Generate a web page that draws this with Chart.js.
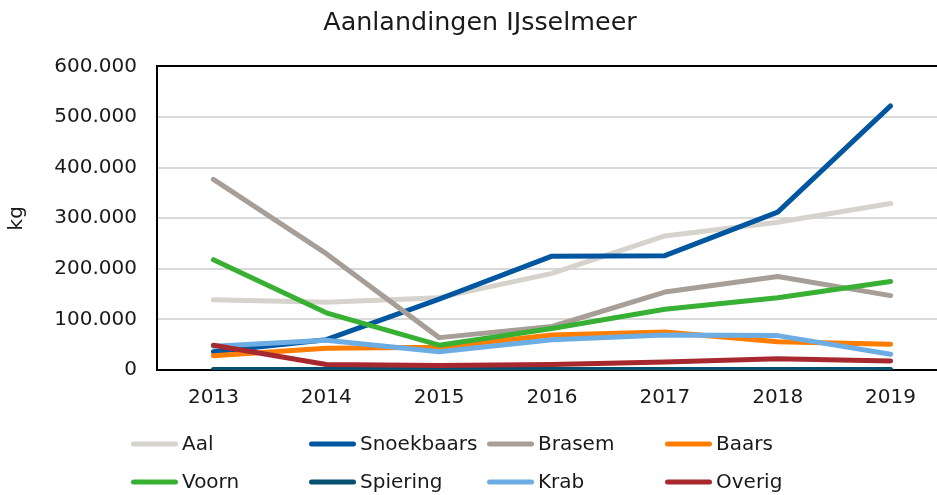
<!DOCTYPE html>
<html lang="nl">
<head>
<meta charset="utf-8">
<title>Aanlandingen IJsselmeer</title>
<script src="https://cdn.jsdelivr.net/npm/chart.js@4/dist/chart.umd.min.js"></script>
<style>
  html, body { margin: 0; padding: 0; background: #fff; overflow: hidden; }
  #wrap { width: 937px; height: 495px; overflow: hidden; }
  canvas { display: block; }
</style>
</head>
<body>
<div id="wrap"><canvas id="chartCanvas" width="980" height="495"></canvas></div>
<script>
// Years on the x axis
const years = ['2013', '2014', '2015', '2016', '2017', '2018', '2019'];

// Landings per species in kg
const aal        = [139000, 134000, 143000, 191000, 265000, 292000, 329000];
const snoekbaars = [36000, 60000, 140000, 225000, 226000, 312000, 522000];
const brasem     = [377000, 230000, 64000, 86000, 154000, 185000, 147000];
const baars      = [28000, 43000, 45000, 69000, 75000, 56000, 51000];
const voorn      = [218000, 113000, 49000, 82000, 120000, 143000, 175000];
const spiering   = [1000, 1000, 1000, 1000, 1000, 1000, 1000];
const krab       = [47000, 59000, 36000, 60000, 69000, 68000, 31000];
const overig     = [49000, 11000, 9000, 11000, 16000, 22000, 18000];

// Y axis range
const yMin = 0;
const yMax = 600000;
const yStep = 100000;

const textColor = '#1a1a1a';
Chart.defaults.font.family = '"DejaVu Sans", Verdana, sans-serif';
Chart.defaults.color = textColor;

// Dutch thousands separator: 100000 -> 100.000
function formatKg(value) {
  return String(value).replace(/\B(?=(\d{3})+(?!\d))/g, '.');
}

// Build a line dataset, later series are drawn on top
function series(label, data, color, index) {
  return {
    label: label,
    data: data,
    borderColor: color,
    backgroundColor: color,
    borderWidth: 5,
    borderCapStyle: 'round',
    borderJoinStyle: 'round',
    pointRadius: 0,
    pointHoverRadius: 0,
    tension: 0,
    fill: false,
    order: 8 - index
  };
}

// Black line along the top of the plot area
const topLine = {
  id: 'topLine',
  beforeDatasetsDraw(chart) {
    const { ctx, chartArea } = chart;
    ctx.save();
    ctx.strokeStyle = '#000';
    ctx.lineWidth = 2;
    ctx.beginPath();
    ctx.moveTo(chartArea.left - 1, Math.round(chartArea.top));
    ctx.lineTo(chartArea.right, Math.round(chartArea.top));
    ctx.stroke();
    ctx.restore();
  }
};

// Legend in a fixed grid of 4 columns, like the Excel legend
const gridLegend = {
  id: 'gridLegend',
  afterDraw(chart, args, opts) {
    const ctx = chart.ctx;
    ctx.save();
    ctx.font = '20px "DejaVu Sans"';
    ctx.textBaseline = 'middle';
    ctx.textAlign = 'left';
    chart.data.datasets.forEach((ds, i) => {
      const col = i % opts.columns;
      const row = Math.floor(i / opts.columns);
      const x = opts.left + col * opts.colWidth;
      const y = opts.top + row * opts.rowHeight;
      ctx.strokeStyle = ds.borderColor;
      ctx.lineWidth = 5;
      ctx.lineCap = 'round';
      ctx.beginPath();
      ctx.moveTo(x + 2.5, y);
      ctx.lineTo(x + opts.lineLength - 2.5, y);
      ctx.stroke();
      ctx.fillStyle = textColor;
      ctx.fillText(ds.label, x + opts.lineLength + 4, y + 1);
    });
    ctx.restore();
  }
};

const ctx = document.getElementById('chartCanvas').getContext('2d');
new Chart(ctx, {
  type: 'line',
  data: {
    labels: years,
    datasets: [
      series('Aal', aal, '#d6d2cc', 0),
      series('Snoekbaars', snoekbaars, '#0057a0', 1),
      series('Brasem', brasem, '#a69e97', 2),
      series('Baars', baars, '#ff7d00', 3),
      series('Voorn', voorn, '#38b034', 4),
      series('Spiering', spiering, '#04506f', 5),
      series('Krab', krab, '#6caee3', 6),
      series('Overig', overig, '#a8282f', 7)
    ]
  },
  options: {
    responsive: false,
    animation: false,
    devicePixelRatio: 1,
    layout: {
      // the plot area runs past the right edge of the picture, like the original
      padding: { left: 13, right: 33, top: 0, bottom: 85 }
    },
    plugins: {
      legend: { display: false },
      tooltip: { enabled: false },
      title: {
        display: true,
        text: 'Aanlandingen IJsselmeer',
        color: textColor,
        font: { size: 25.4, weight: 'normal' },
        padding: { top: 8, bottom: 28 }
      },
      gridLegend: {
        columns: 4,
        left: 131,
        colWidth: 178,
        top: 444,
        rowHeight: 38,
        lineLength: 47
      }
    },
    scales: {
      x: {
        offset: true,
        grid: { display: false, drawTicks: false },
        border: { display: true, color: '#000', width: 2 },
        ticks: { font: { size: 20 }, color: textColor, padding: 16, maxRotation: 0 },
        afterFit(scale) { scale.height = 40; }
      },
      y: {
        min: yMin,
        max: yMax,
        grid: { drawTicks: false, lineWidth: 2, color: '#d9d9d9' },
        border: { display: true, color: '#000', width: 2 },
        ticks: {
          stepSize: yStep,
          font: { size: 20 },
          color: textColor,
          padding: 20,
          callback: (value) => formatKg(value)
        },
        title: {
          display: true,
          text: 'kg',
          color: textColor,
          font: { size: 20 },
          padding: { top: -8, bottom: 0 }
        },
        afterFit(scale) { scale.width = 144; }
      }
    }
  },
  plugins: [topLine, gridLegend]
});
</script>
</body>
</html>
